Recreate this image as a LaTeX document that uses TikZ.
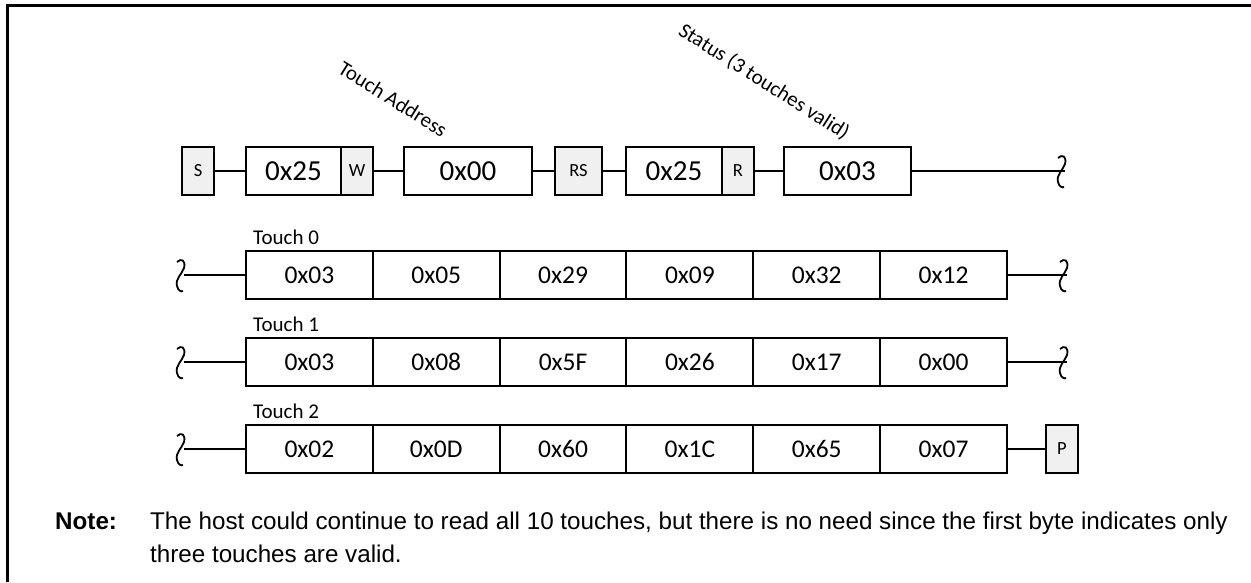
\documentclass[tikz,border=0pt]{standalone}
\usepackage{fontspec}
\usetikzlibrary{calc}
\setmainfont{Carlito}
\newfontfamily\arialf{Liberation Sans}
\begin{document}
\begin{tikzpicture}[x=1pt,y=-1pt,
  cell/.style={draw,line width=2pt,inner sep=0pt,outer sep=0pt,minimum height=48pt,fill=white},
  bigtxt/.style={font=\fontsize{29}{34}\selectfont},
  midtxt/.style={font=\fontsize{25.5}{30}\selectfont},
  ctl/.style={cell,fill=black!6,font=\fontsize{18.5}{22}\selectfont},
  conn/.style={line width=2pt},
  lbl/.style={font=\fontsize{21}{25}\selectfont,inner sep=0pt},
  frame/.style={line width=3pt}
]
\useasboundingbox (0,0) rectangle (1251,582);
% frame
\draw[frame] (7,582) -- (7,5) -- (1251,5);

% squiggle macro
\def\squig#1{\draw[conn,line width=1.8pt] ($(#1)+(-7,-13)$) .. controls ($(#1)+(-3,-17)$) and ($(#1)+(2,-15)$) .. ($(#1)+(0,-7)$) .. controls ($(#1)+(-2,-1)$) and ($(#1)+(-9,4)$) .. ($(#1)+(-7,11)$) .. controls ($(#1)+(-6,16)$) and ($(#1)+(-2,17)$) .. ($(#1)+(-1,16)$);}

% Row 1
\node[ctl,minimum width=32pt] (S) at (198,171) {S};
\node[cell,bigtxt,minimum width=95pt] (a25) at (293.5,171) {0x25};
\node[ctl,minimum width=32pt] (W) at (357,171) {W};
\node[cell,bigtxt,minimum width=128pt] (a00) at (468,171) {0x00};
\node[ctl,minimum width=47pt] (RS) at (578.5,171) {RS};
\node[cell,bigtxt,minimum width=96pt] (b25) at (674,171) {0x25};
\node[ctl,minimum width=32pt] (R) at (738,171) {R};
\node[cell,bigtxt,minimum width=127pt] (b03) at (847.5,171) {0x03};
\coordinate (e1) at (1065,171);
\draw[conn] (S.east) -- (a25.west);
\draw[conn] (W.east) -- (a00.west);
\draw[conn] (a00.east) -- (RS.west);
\draw[conn] (RS.east) -- (b25.west);
\draw[conn] (R.east) -- (b03.west);
\draw[conn] (b03.east) -- (e1);
\squig{e1}

\node[lbl,rotate=-32] (ta) at (393,99) {Touch Address};
\node[lbl,rotate=-32.5] (st) at (764,82) {Status (3 touches valid)};

% Rows 2-4
\def\cw{126.83}
\foreach \r/\yy/\a/\b/\c/\d/\e/\f in {0/275/0x03/0x05/0x29/0x09/0x32/0x12, 1/362/0x03/0x08/0x5F/0x26/0x17/0x00, 2/449/0x02/0x0D/0x60/0x1C/0x65/0x07}{
  \foreach \i/\t in {1/\a,2/\b,3/\c,4/\d,5/\e,6/\f}{
    \node[cell,midtxt,minimum width=\cw pt] (c\r\i) at ({246+(\i-0.5)*\cw},\yy) {\t};
  }
  \coordinate (l\r) at (184,\yy);
  \draw[conn] (l\r) -- (c\r1.west);
  \squig{l\r}
}
\coordinate (r0) at (1067,275);
\coordinate (r1) at (1067,362);
\draw[conn] (c06.east) -- (r0);
\draw[conn] (c16.east) -- (r1);
\squig{r0}
\squig{r1}
\node[ctl,minimum width=32pt] (P) at (1062,449) {P};
\draw[conn] (c26.east) -- (P.west);

\node[lbl,anchor=west] (t0) at (253,237) {Touch 0};
\node[lbl,anchor=west] (t1) at (253,324) {Touch 1};
\node[lbl,anchor=west] (t2) at (253,411) {Touch 2};

% Note
\node[anchor=base west,inner sep=0pt,font=\arialf\bfseries\fontsize{24.2}{33}\selectfont] (nl) at (55,529) {Note:};
\node[anchor=base west,inner sep=0pt,align=left,font=\arialf\fontsize{24.2}{33}\selectfont] (nt) at (150,562) {The host could continue to read all 10 touches, but there is no need since the first byte indicates only\\three touches are valid.};
\end{tikzpicture}
\end{document}
